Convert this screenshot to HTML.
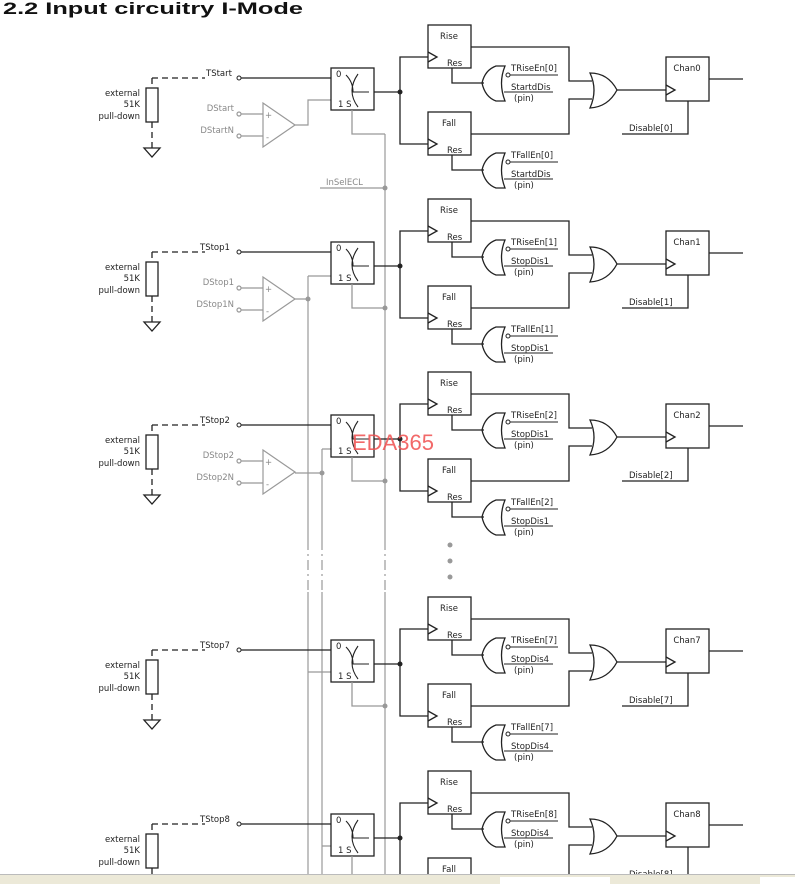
<!DOCTYPE html>
<html><head><meta charset="utf-8"><style>
html,body{margin:0;padding:0;background:#fff;width:795px;height:884px;overflow:hidden}
svg{display:block}
text{font-family:"DejaVu Sans","Liberation Sans",sans-serif;font-size:8.5px;fill:#222}
.g{fill:#888}
.t{font-family:"Liberation Sans",sans-serif;font-weight:bold;font-size:17px;fill:#111}
</style></head><body>
<svg width="795" height="884" viewBox="0 0 795 884" xmlns="http://www.w3.org/2000/svg">
<defs>
<g id="blk" fill="none" stroke="#222" stroke-width="1.3">
  <path d="M152,78 H205 M152,78 V88 M152,122 V148" stroke-dasharray="6,4"/>
  <rect x="146" y="88" width="12" height="34"/>
  <path d="M144,148 H160 L152,157 Z"/>
  <path d="M241,78 H331"/>
  <circle cx="239" cy="78" r="2" fill="#fff" stroke-width="1"/>
  <rect x="331" y="68" width="43" height="42"/>
  <path d="M358,74 Q346,91 358,107 M346,75 Q353,82 353,92 H369" stroke-width="1.1"/>
  <path d="M374,92 H400 M428,57 H400 V144 H428"/>
  <circle cx="400" cy="92" r="2.5" fill="#222" stroke="none"/>
  <rect x="428" y="25" width="43" height="43"/>
  <path d="M428,52 L437,57 L428,62"/>
  <rect x="428" y="112" width="43" height="43"/>
  <path d="M428,139 L437,144 L428,149"/>
  <path d="M452,68 V83 H484 M452,155 V170 H484"/>
  <path d="M505,66 H496 Q485,70 482,83 Q485,97 496,101 H505 Q498,83 505,66 Z"/>
  <path d="M505,153 H496 Q485,157 482,170 Q485,184 496,188 H505 Q498,170 505,153 Z"/>
  <circle cx="508" cy="75" r="2" fill="#fff" stroke-width="1"/>
  <circle cx="508" cy="162" r="2" fill="#fff" stroke-width="1"/>
  <path d="M510,75 H558 M504,92 H553 M510,162 H558 M504,179 H553" stroke-width="1.1"/>
  <path d="M471,47 H569 V81 H592 M471,134 H569 V99 H592"/>
  <path d="M590,73 Q608,73 617,90 Q608,107 590,108 Q598,90 590,73 Z"/>
  <path d="M617,90 H666"/>
  <rect x="666" y="57" width="43" height="44"/>
  <path d="M666,85 L675,90 L666,95"/>
  <path d="M709,79 H743 M688,101 V134 H622"/>
  <path d="M352,110 V134 H385" stroke="#999"/>
</g>
<g id="cmp" fill="none" stroke="#999" stroke-width="1.2">
  <path d="M263,103 L263,147 L295,125 Z"/>
  <path d="M241,114 H263 M241,136 H263"/>
  <circle cx="239" cy="114" r="2" fill="#fff"/>
  <circle cx="239" cy="136" r="2" fill="#fff"/>
</g>
</defs>
<text x="3" y="14" class="t" textLength="300" lengthAdjust="spacingAndGlyphs">2.2 Input circuitry I-Mode</text>

<g fill="none" stroke="#999" stroke-width="1.2">
  <path d="M385,134 V540 M385,592 V874"/>
  <path d="M385,540 V592" stroke-dasharray="10,4,2,4"/>
  <path d="M308,276 V540 M308,592 V874 M308,276 H331"/>
  <path d="M308,540 V592" stroke-dasharray="10,4,2,4"/>
  <path d="M322,449 V540 M322,592 V874 M322,449 H331"/>
  <path d="M322,540 V592" stroke-dasharray="10,4,2,4"/>
  <path d="M320,188 H385"/>
  <path d="M295,125 H308 V100 H331"/>
  <path d="M295,299 H308 M295,473 H322"/>
  <path d="M308,672 H331 M322,846 H331"/>
</g>
<g fill="#999">
  <circle cx="385" cy="188" r="2.5"/>
  <circle cx="385" cy="308" r="2.5"/><circle cx="385" cy="481" r="2.5"/>
  <circle cx="385" cy="706" r="2.5"/><circle cx="308" cy="299" r="2.5"/>
  <circle cx="322" cy="473" r="2.5"/>
  <circle cx="450" cy="545" r="2.5"/><circle cx="450" cy="561" r="2.5"/><circle cx="450" cy="577" r="2.5"/>
</g>
<text x="326" y="185" class="g">InSelECL</text>

<use href="#blk"/><use href="#cmp"/>
<g>
<text x="140" y="96" text-anchor="end">external</text><text x="140" y="107" text-anchor="end">51K</text><text x="140" y="119" text-anchor="end">pull-down</text>
<text x="206" y="76">TStart</text>
<text x="234" y="111" text-anchor="end" class="g">DStart</text><text x="234" y="133" text-anchor="end" class="g">DStartN</text>
<text x="265" y="118" class="g">+</text><text x="266" y="140" class="g">-</text>
<text x="336" y="77">0</text><text x="338" y="107">1  S</text>
<text x="449" y="39" text-anchor="middle">Rise</text><text x="447" y="66">Res</text>
<text x="449" y="126" text-anchor="middle">Fall</text><text x="447" y="153">Res</text>
<text x="511" y="71">TRiseEn[0]</text><text x="511" y="90">StartdDis</text><text x="514" y="101">(pin)</text>
<text x="511" y="158">TFallEn[0]</text><text x="511" y="177">StartdDis</text><text x="514" y="188">(pin)</text>
<text x="687" y="71" text-anchor="middle">Chan0</text><text x="629" y="131">Disable[0]</text>
</g>

<use href="#blk" y="174"/><use href="#cmp" y="174"/>
<g transform="translate(0,174)">
<text x="140" y="96" text-anchor="end">external</text><text x="140" y="107" text-anchor="end">51K</text><text x="140" y="119" text-anchor="end">pull-down</text>
<text x="200" y="76">TStop1</text>
<text x="234" y="111" text-anchor="end" class="g">DStop1</text><text x="234" y="133" text-anchor="end" class="g">DStop1N</text>
<text x="265" y="118" class="g">+</text><text x="266" y="140" class="g">-</text>
<text x="336" y="77">0</text><text x="338" y="107">1  S</text>
<text x="449" y="39" text-anchor="middle">Rise</text><text x="447" y="66">Res</text>
<text x="449" y="126" text-anchor="middle">Fall</text><text x="447" y="153">Res</text>
<text x="511" y="71">TRiseEn[1]</text><text x="511" y="90">StopDis1</text><text x="514" y="101">(pin)</text>
<text x="511" y="158">TFallEn[1]</text><text x="511" y="177">StopDis1</text><text x="514" y="188">(pin)</text>
<text x="687" y="71" text-anchor="middle">Chan1</text><text x="629" y="131">Disable[1]</text>
</g>

<use href="#blk" y="347"/><use href="#cmp" y="347"/>
<g transform="translate(0,347)">
<text x="140" y="96" text-anchor="end">external</text><text x="140" y="107" text-anchor="end">51K</text><text x="140" y="119" text-anchor="end">pull-down</text>
<text x="200" y="76">TStop2</text>
<text x="234" y="111" text-anchor="end" class="g">DStop2</text><text x="234" y="133" text-anchor="end" class="g">DStop2N</text>
<text x="265" y="118" class="g">+</text><text x="266" y="140" class="g">-</text>
<text x="336" y="77">0</text><text x="338" y="107">1  S</text>
<text x="449" y="39" text-anchor="middle">Rise</text><text x="447" y="66">Res</text>
<text x="449" y="126" text-anchor="middle">Fall</text><text x="447" y="153">Res</text>
<text x="511" y="71">TRiseEn[2]</text><text x="511" y="90">StopDis1</text><text x="514" y="101">(pin)</text>
<text x="511" y="158">TFallEn[2]</text><text x="511" y="177">StopDis1</text><text x="514" y="188">(pin)</text>
<text x="687" y="71" text-anchor="middle">Chan2</text><text x="629" y="131">Disable[2]</text>
</g>

<use href="#blk" y="572"/>
<g transform="translate(0,572)">
<text x="140" y="96" text-anchor="end">external</text><text x="140" y="107" text-anchor="end">51K</text><text x="140" y="119" text-anchor="end">pull-down</text>
<text x="200" y="76">TStop7</text>
<text x="336" y="77">0</text><text x="338" y="107">1  S</text>
<text x="449" y="39" text-anchor="middle">Rise</text><text x="447" y="66">Res</text>
<text x="449" y="126" text-anchor="middle">Fall</text><text x="447" y="153">Res</text>
<text x="511" y="71">TRiseEn[7]</text><text x="511" y="90">StopDis4</text><text x="514" y="101">(pin)</text>
<text x="511" y="158">TFallEn[7]</text><text x="511" y="177">StopDis4</text><text x="514" y="188">(pin)</text>
<text x="687" y="71" text-anchor="middle">Chan7</text><text x="629" y="131">Disable[7]</text>
</g>

<use href="#blk" y="746"/>
<g transform="translate(0,746)">
<text x="140" y="96" text-anchor="end">external</text><text x="140" y="107" text-anchor="end">51K</text><text x="140" y="119" text-anchor="end">pull-down</text>
<text x="200" y="76">TStop8</text>
<text x="336" y="77">0</text><text x="338" y="107">1  S</text>
<text x="449" y="39" text-anchor="middle">Rise</text><text x="447" y="66">Res</text>
<text x="449" y="126" text-anchor="middle">Fall</text>
<text x="511" y="71">TRiseEn[8]</text><text x="511" y="90">StopDis4</text><text x="514" y="101">(pin)</text>
<text x="687" y="71" text-anchor="middle">Chan8</text><text x="629" y="131">Disable[8]</text>
</g>

<text x="352" y="450" style="font-family:'Liberation Sans',sans-serif;font-size:22px;fill:#f05050;opacity:0.85">EDA365</text>

<rect x="0" y="874" width="795" height="10" fill="#ece9d8"/>
<line x1="0" y1="874.5" x2="795" y2="874.5" stroke="#bbb"/>
<rect x="500" y="877" width="110" height="7" fill="#fff"/>
<rect x="760" y="877" width="35" height="7" fill="#fff"/>
</svg>
</body></html>
